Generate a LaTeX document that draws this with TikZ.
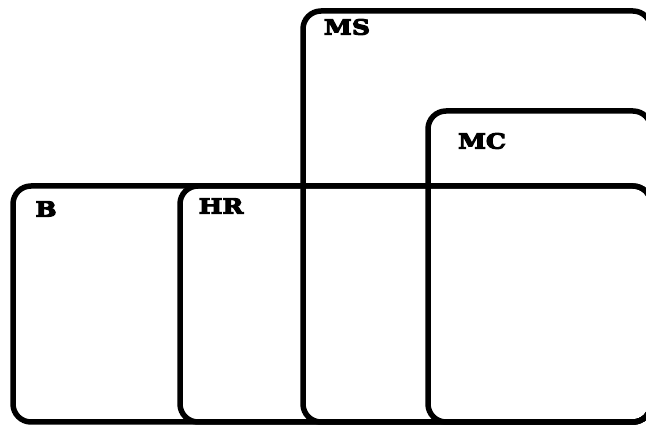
\documentclass[tikz,border=0pt]{standalone}
\usepackage{fontspec}
\newfontfamily\labfont[FakeStretch=1.2,FakeBold=5]{DejaVu Serif Bold}
\begin{document}
\begin{tikzpicture}[x=1pt,y=1pt,
  region/.style={draw=black, line width=5.5pt, rounded corners=18pt, rectangle, inner sep=0pt, outer sep=0pt, anchor=south west},
  lab/.style={font=\labfont\fontsize{21}{21}\selectfont, inner sep=0pt, anchor=center}]
\useasboundingbox (0,0) rectangle (646,426);
\clip (0,0) rectangle (646,426);
\node[region, minimum width=638pt, minimum height=236pt] (B) at (13,4) {};
\node[region, minimum width=471pt, minimum height=236pt] (HR) at (180,4) {};
\node[region, minimum width=348pt, minimum height=411pt] (MS) at (303,4) {};
\node[region, minimum width=223pt, minimum height=311pt] (MC) at (428,4) {};
\node[lab] (lB) at (46,217) {B};
\node[lab] (lHR) at (221,220) {HR};
\node[lab] (lMS) at (347,399) {MS};
\node[lab] (lMC) at (482,285) {MC};
\end{tikzpicture}
\end{document}
